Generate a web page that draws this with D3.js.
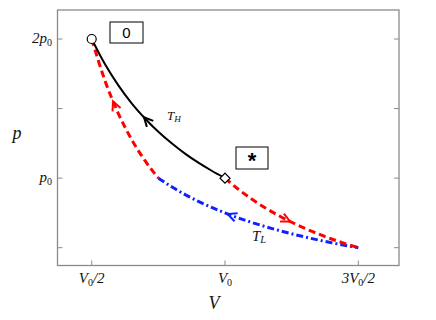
<!DOCTYPE html>
<html><head><meta charset="utf-8">
<script src="https://cdn.jsdelivr.net/npm/d3@7"></script>
<style>body{margin:0;background:#fff}svg{display:block}</style>
</head><body>
<script>
// Data (V in units of V0, p in units of p0)
const isoHotV = [0.5,0.55,0.6,0.65,0.7,0.75,0.8,0.85,0.9,0.95,1.0];
const isoHotP = [2,1.818,1.667,1.538,1.429,1.333,1.25,1.176,1.111,1.053,1.0];
const adiaRightV = [1.0,1.05,1.1,1.15,1.2,1.25,1.3,1.35,1.4,1.45,1.5];
const adiaRightP = [1.0,0.920,0.850,0.7875,0.7322,0.6828,0.6386,0.5987,0.5626,0.5298,0.5];
const isoColdV = [0.75,0.8,0.9,1.0,1.1,1.2,1.3,1.4,1.5];
const isoColdP = [1.0,0.9375,0.8333,0.75,0.6818,0.625,0.5769,0.5357,0.5];
const adiaLeftV = [0.5,0.55,0.6,0.65,0.7,0.75];
const adiaLeftP = [2.0,1.6994,1.4644,1.2771,1.1252,1.0];
const xTickVals = [0.5,1.0,1.5];
const xTickLabels = [["V","0","/2"],["V","0",""],["3V","0","/2"]];
const yTickVals = [0.5,1.0,1.5,2.0];
const yTickLabels = {"1":["p","0"],"2":["2p","0"]};
// arrows: curve, V position, direction (+1 = increasing V)
const arrowSpecs = [["hot",0.696,-1],["adiaL",0.58,-1],["adiaR",1.244,1],["cold",1.01,-1]];
const stateO = [0.5,2.0];
const stateStar = [1.0,1.0];

const W=436,H=320;
const svg=d3.select("body").append("svg").attr("width",W).attr("height",H);
const x=d3.scaleLinear().domain([0.5,1.5]).range([91.7,358.3]);
const y=d3.scaleLinear().domain([0.5,2.0]).range([247.7,39]);
const L=57.5,R=399,T=10,B=265.5;

// axes box
const axisCol="#8a8a8a";
svg.append("rect").attr("x",L).attr("y",T).attr("width",R-L).attr("height",B-T)
  .attr("fill","none").attr("stroke",axisCol).attr("stroke-width",1.3);
const ax=svg.append("g");
xTickVals.forEach(v=>{
  ax.append("line").attr("x1",x(v)).attr("x2",x(v)).attr("y1",B).attr("y2",B-5).attr("stroke",axisCol);
});
yTickVals.forEach(v=>{
  ax.append("line").attr("x1",L).attr("x2",L+5).attr("y1",y(v)).attr("y2",y(v)).attr("stroke",axisCol);
  ax.append("line").attr("x1",R).attr("x2",R-5).attr("y1",y(v)).attr("y2",y(v)).attr("stroke",axisCol);
});
const serif="'Liberation Serif','DejaVu Serif',serif";
// x tick labels
xTickVals.forEach((v,i)=>{
  const lab=xTickLabels[i];
  const t=svg.append("text").attr("x",x(v)).attr("y",283).attr("text-anchor","middle")
    .attr("font-family",serif).attr("font-style","italic").attr("font-size",15).attr("fill","#111");
  t.append("tspan").text(lab[0]);
  t.append("tspan").attr("font-size",10).attr("dy",3).attr("font-style","normal").text(lab[1]);
  if(lab[2]) t.append("tspan").attr("dy",-3).text(lab[2]);
});
// y tick labels
yTickVals.forEach(v=>{
  const lab=yTickLabels[String(v)];
  if(!lab) return;
  const t=svg.append("text").attr("x",52).attr("y",y(v)+4).attr("text-anchor","end")
    .attr("font-family",serif).attr("font-style","italic").attr("font-size",15).attr("fill","#111");
  t.append("tspan").text(lab[0]);
  t.append("tspan").attr("font-size",10).attr("dy",3).attr("font-style","normal").text(lab[1]);
});
// axis titles
svg.append("text").attr("x",17).attr("y",139).attr("text-anchor","middle").attr("font-family",serif)
  .attr("font-style","italic").attr("font-size",18).attr("fill","#111").text("p");
svg.append("text").attr("x",214).attr("y",309).attr("text-anchor","middle").attr("font-family",serif)
  .attr("font-style","italic").attr("font-size",18).attr("fill","#111").text("V");

const line=d3.line().x(d=>x(d[0])).y(d=>y(d[1])).curve(d3.curveMonotoneX);
const zip=(a,b)=>a.map((v,i)=>[v,b[i]]);
const curves={
  hot:{d:zip(isoHotV,isoHotP),c:"#000",w:2,dash:null},
  adiaL:{d:zip(adiaLeftV,adiaLeftP),c:"#ff0000",w:3,dash:"7,4"},
  adiaR:{d:zip(adiaRightV,adiaRightP),c:"#ff0000",w:3,dash:"7,4"},
  cold:{d:zip(isoColdV,isoColdP),c:"#1020ff",w:3,dash:"7,3,2,3"}
};
const paths={};
["cold","adiaR","adiaL","hot"].forEach(k=>{
  const cv=curves[k];
  paths[k]=svg.append("path").attr("d",line(cv.d)).attr("fill","none").attr("stroke",cv.c)
    .attr("stroke-width",cv.w).attr("stroke-dasharray",cv.dash);
});
// arrows
arrowSpecs.forEach(([k,v,dir])=>{
  const node=paths[k].node(),len=node.getTotalLength();
  const tx=x(v);
  let lo=0,hi=len;
  for(let i=0;i<40;i++){const m=(lo+hi)/2;if(node.getPointAtLength(m).x<tx)lo=m;else hi=m;}
  const s=(lo+hi)/2,p=node.getPointAtLength(s);
  const p1=node.getPointAtLength(Math.max(0,s-2)),p2=node.getPointAtLength(Math.min(len,s+2));
  let ang=Math.atan2(p2.y-p1.y,p2.x-p1.x); if(dir<0) ang+=Math.PI;
  const a=10,th=0.45;
  const b1=[p.x-a*Math.cos(ang-th),p.y-a*Math.sin(ang-th)];
  const b2=[p.x-a*Math.cos(ang+th),p.y-a*Math.sin(ang+th)];
  svg.append("path").attr("d",`M${b1[0]},${b1[1]}L${p.x},${p.y}L${b2[0]},${b2[1]}`)
    .attr("fill","none").attr("stroke",curves[k].c).attr("stroke-width",2);
});
// state markers
svg.append("circle").attr("cx",x(stateO[0])).attr("cy",y(stateO[1])).attr("r",4.5)
  .attr("fill","#fff").attr("stroke","#000").attr("stroke-width",1.2);
svg.append("path").attr("d",d3.symbol(d3.symbolSquare,50)()).attr("fill","#fff").attr("stroke","#000")
  .attr("stroke-width",1.2).attr("transform",`translate(${x(stateStar[0])},${y(stateStar[1])}) rotate(45)`);
// labels boxes
svg.append("rect").attr("x",110).attr("y",22).attr("width",33).attr("height",21).attr("fill","#fff").attr("stroke","#000");
svg.append("text").attr("x",126.5).attr("y",38).attr("text-anchor","middle").attr("font-family","'Liberation Sans',Arial,sans-serif")
  .attr("font-size",15).text("0");
svg.append("rect").attr("x",236).attr("y",147).attr("width",32).attr("height",22).attr("fill","#fff").attr("stroke","#000");
svg.append("text").attr("x",252).attr("y",168).attr("text-anchor","middle").attr("font-family","'Liberation Sans',Arial,sans-serif")
  .attr("font-weight","bold").attr("font-size",22).text("*");
// T labels
function tlab(xx,yy,sub,fs){
  const t=svg.append("text").attr("x",xx).attr("y",yy).attr("font-family",serif).attr("font-style","italic")
    .attr("font-size",fs).attr("fill","#111");
  t.append("tspan").text("T");
  t.append("tspan").attr("font-size",fs*0.7).attr("dy",2).text(sub);
}
tlab(167,120,"H",13);
tlab(252,241,"L",15);
</script>
</body></html>
